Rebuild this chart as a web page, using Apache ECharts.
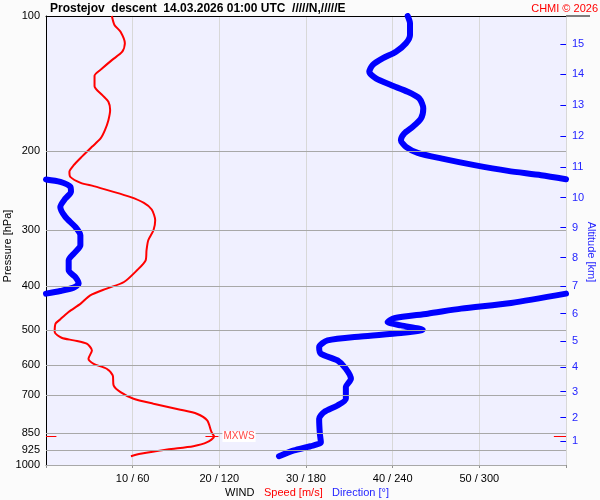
<!DOCTYPE html>
<html>
<head>
<meta charset="utf-8">
<script src="https://cdn.jsdelivr.net/npm/echarts@6/dist/echarts.min.js"></script>
<style>
html,body{margin:0;padding:0;background:#fbfbfb;}
#chart{width:600px;height:500px;}
</style>
</head>
<body>
<div id="chart"></div>
<script>
// ---- tick labels ----
const pressureTicks = [100, 200, 300, 400, 500, 600, 700, 850, 925, 1000];
const altitudeKm = [1, 2, 3, 4, 5, 6, 7, 8, 9, 10, 11, 12, 13, 14, 15];
const altitudePressure = [884.9, 784.7, 686.8, 605.2, 530.4, 460.1, 399.4, 345.2, 295.9, 253.7, 216.8, 185.1, 158.2, 134.7, 115.6];
const windTickValues = [10, 20, 30, 40, 50];
const windTickLabels = ['10 / 60', '20 / 120', '30 / 180', '40 / 240', '50 / 300'];

// ---- wind speed profile (hPa, m/s) ----
const speedPressure = [100, 104.7, 108.4, 115.0, 120.1, 125.4, 130.8, 135.9, 143.3, 150.0, 155.3, 162.0, 170.6, 179.6, 187.4, 195.6, 205.2, 214.9, 222.4, 228.2, 235.3, 239.3, 245.2, 252.9, 260.8, 269.8, 285.0, 300.0, 315.8, 332.4, 350.0, 368.4, 391.2, 404.7, 419.0, 437.2, 456.4, 474.6, 484.5, 505.8, 520.6, 527.8, 536.9, 555.6, 579.8, 595.0, 610.4, 631.7, 664.8, 688.2, 711.9, 730.3, 753.2, 768.8, 795.8, 845.3, 864, 889.5, 907.9, 923.3, 944.1, 956];
const speedValues = [7.6, 7.9, 8.6, 9.1, 8.8, 7.6, 6.5, 5.6, 5.6, 6.5, 7.2, 7.4, 7.2, 6.8, 6.3, 5.3, 4.2, 3.2, 2.7, 2.8, 4.0, 5.5, 7.4, 9.7, 11.3, 12.2, 12.6, 12.4, 11.8, 11.6, 11.5, 10.5, 9.0, 7.0, 5.1, 4.0, 2.6, 1.6, 1.1, 1.0, 1.8, 3.2, 4.7, 5.3, 4.9, 5.5, 7.0, 7.7, 7.8, 8.6, 10.1, 12.4, 15.5, 17.4, 18.6, 19.1, 19.4, 18.6, 17.0, 14.0, 10.9, 9.8];

// ---- max wind ----
const mxwsPressure = 864;
const mxwsSpeed = 19.4;

// ---- wind direction profile (hPa, deg), split where it wraps 360/0 ----
const dirUpperPressure = [100, 103.8, 110.2, 115.0, 120.1, 124.3, 128.6, 133.1, 137.7, 142.5, 147.5, 152.6, 160.6, 169.1, 176.5, 182.6, 189.0, 195.6, 201.7, 207.6, 214.9, 221.3, 226.2, 230.9];
const dirUpperValues = [250.4, 252, 252, 249.2, 242.3, 233, 226.1, 223.8, 228.4, 238.8, 250.4, 258.4, 261.2, 259.6, 253.9, 248, 245.7, 249.2, 257.3, 273.5, 296.6, 319.8, 342.8, 360];
const dirMidPressure = [231.2, 234.1, 240.2, 246.4, 255.0, 266.2, 280.2, 295.0, 307.8, 324.1, 335.4, 350.0, 368.4, 381.3, 394.5, 402.7, 409.8, 415.3];
const dirMidValues = [0, 9.9, 16.9, 17.3, 13.4, 9.9, 13.4, 20.3, 23.8, 23.8, 20.3, 15.7, 15.7, 20.3, 22.6, 19.1, 9.9, 0];
const dirLowerPressure = [415.3, 435.5, 448.5, 460.2, 470.7, 480.5, 488.7, 499.6, 508.4, 517.1, 527.8, 546.4, 565.1, 584.8, 610.4, 642.5, 670.7, 711.9, 736.8, 762.6, 788.9, 852.1, 889.5, 907.9, 928.2, 956];
const dirLowerValues = [360, 322, 287.4, 264.3, 241.1, 236.5, 245.7, 260.8, 245.7, 218, 194.9, 189.1, 190.3, 201.8, 207.6, 211.1, 207.6, 207.6, 201.8, 192.5, 189.1, 189.6, 190.3, 183.3, 171.7, 161.3];

const FONT = '"Liberation Sans", Arial, sans-serif';
const BLUE = '#0000ff';
const LABEL_BLUE = '#2424ff';
const GRID_GRAY = '#a8a8a8';

function pairs(ps, vs) { return ps.map((p, i) => [vs[i], p]); }

// horizontal pressure grid lines with left labels
const gridMarks = pressureTicks.map(p => ({
  yAxis: p,
  label: { show: true, formatter: String(p), color: '#000' },
  lineStyle: { color: (p === 100) ? 'rgba(0,0,0,0)' : GRID_GRAY, width: 1, type: 'solid' }
}));
// altitude ticks on the right edge
const altMarks = altitudePressure.map((p, i) => ([
  { coord: [59.35, p],
    label: { show: true, position: 'end', formatter: String(altitudeKm[i]), color: LABEL_BLUE, fontSize: 11, fontFamily: FONT, distance: 6 },
    lineStyle: { color: BLUE, width: 1, type: 'solid' } },
  { coord: [60, p] }
]));

const dirStyle = { color: BLUE, width: 6, cap: 'round', join: 'round' };

const option = {
  backgroundColor: '#fbfbfb',
  animation: false,
  textStyle: { fontFamily: FONT },
  title: [
    { text: 'Prostejov  descent  14.03.2026 01:00 UTC  /////N,/////E', left: 50, top: 3, padding: 0,
      textStyle: { fontSize: 12, fontWeight: 'bold', color: '#000', fontFamily: FONT } },
    { text: 'CHMI © 2026', right: 2, top: 3, padding: 0,
      textStyle: { fontSize: 11, fontWeight: 'normal', color: '#ff0000', fontFamily: FONT } }
  ],
  grid: { left: 46, right: 34, top: 16, bottom: 35, show: true, backgroundColor: '#f0f0ff', borderWidth: 0, containLabel: false, outerBoundsMode: 'none' },
  xAxis: [
    { type: 'value', min: 0, max: 60, interval: 10, position: 'bottom',
      axisLine: { show: true, onZero: false, lineStyle: { color: '#808080' } },
      axisTick: { show: true, length: 3, lineStyle: { color: '#909090' } },
      axisLabel: { margin: 8, color: '#000', fontSize: 11, fontFamily: FONT,
        formatter: v => { const i = windTickValues.indexOf(v); return i < 0 ? '' : windTickLabels[i]; } },
      splitLine: { show: true, lineStyle: { color: '#d8d8d8', width: 1 } } },
    { type: 'value', min: 0, max: 360, position: 'top',
      axisLine: { show: true, onZero: false, lineStyle: { color: '#000' } },
      axisTick: { show: false }, axisLabel: { show: false }, splitLine: { show: false } }
  ],
  yAxis: [
    { type: 'log', logBase: 10, min: 100, max: 1000, inverse: true,
      axisLine: { show: true, onZero: false, lineStyle: { color: '#000' } },
      axisTick: { show: false }, axisLabel: { show: false }, splitLine: { show: false } }
  ],
  graphic: [
    { type: 'text', x: 8, y: 246, rotation: Math.PI / 2,
      style: { text: 'Pressure [hPa]', font: '11px ' + FONT, fill: '#000', align: 'center', verticalAlign: 'middle' } },
    { type: 'text', x: 591, y: 252, rotation: -Math.PI / 2,
      style: { text: 'Altitude [km]', font: '11px ' + FONT, fill: LABEL_BLUE, align: 'center', verticalAlign: 'middle' } },
    { type: 'text', x: 225, y: 493,
      style: { text: 'WIND', font: '11px ' + FONT, fill: '#000', align: 'left', verticalAlign: 'middle' } },
    { type: 'text', x: 264, y: 493,
      style: { text: 'Speed [m/s]', font: '11px ' + FONT, fill: '#ff0000', align: 'left', verticalAlign: 'middle' } },
    { type: 'text', x: 332, y: 493,
      style: { text: 'Direction [°]', font: '11px ' + FONT, fill: LABEL_BLUE, align: 'left', verticalAlign: 'middle' } },
    { type: 'line', shape: { x1: 566, y1: 16, x2: 590, y2: 16 }, style: { stroke: '#000', lineWidth: 1 } }
  ],
  series: [
    { type: 'line', name: 'grid', data: [], xAxisIndex: 0, yAxisIndex: 0, z: 1, silent: true,
      markLine: { silent: true, symbol: 'none', animation: false,
        label: { show: true, position: 'start', color: '#000', fontSize: 11, fontFamily: FONT, distance: 6 },
        emphasis: { disabled: true },
        data: gridMarks.concat(altMarks) } },
    { type: 'line', name: 'speed', data: pairs(speedPressure, speedValues), xAxisIndex: 0, yAxisIndex: 0,
      symbol: 'none', smooth: 0.25, z: 4, lineStyle: { color: '#ff0000', width: 2 },
      markLine: { silent: true, symbol: 'none', animation: false, emphasis: { disabled: true },
        lineStyle: { color: '#ff0000', width: 1, type: 'solid' },
        label: { show: false },
        data: [
          [ { coord: [mxwsSpeed - 1.0, mxwsPressure],
              label: { show: true, position: 'end', formatter: 'MXWS', color: '#ff4848', fontSize: 10, fontFamily: FONT, backgroundColor: '#ffffff', padding: [1, 1, 0, 1], distance: 4 } },
            { coord: [mxwsSpeed + 0.5, mxwsPressure] } ],
          [ { coord: [0, mxwsPressure] }, { coord: [1.2, mxwsPressure] } ],
          [ { coord: [58.6, mxwsPressure] }, { coord: [60, mxwsPressure] } ]
        ] } },
    { type: 'line', name: 'dirUpper', data: pairs(dirUpperPressure, dirUpperValues), xAxisIndex: 1, yAxisIndex: 0,
      symbol: 'none', smooth: 0.25, z: 3, lineStyle: dirStyle },
    { type: 'line', name: 'dirMid', data: pairs(dirMidPressure, dirMidValues), xAxisIndex: 1, yAxisIndex: 0,
      symbol: 'none', smooth: 0.25, z: 3, lineStyle: dirStyle },
    { type: 'line', name: 'dirLower', data: pairs(dirLowerPressure, dirLowerValues), xAxisIndex: 1, yAxisIndex: 0,
      symbol: 'none', smooth: 0.25, z: 3, lineStyle: dirStyle }
  ]
};

const chart = echarts.init(document.getElementById('chart'), null, { renderer: 'canvas' });
chart.setOption(option);
</script>
</body>
</html>
